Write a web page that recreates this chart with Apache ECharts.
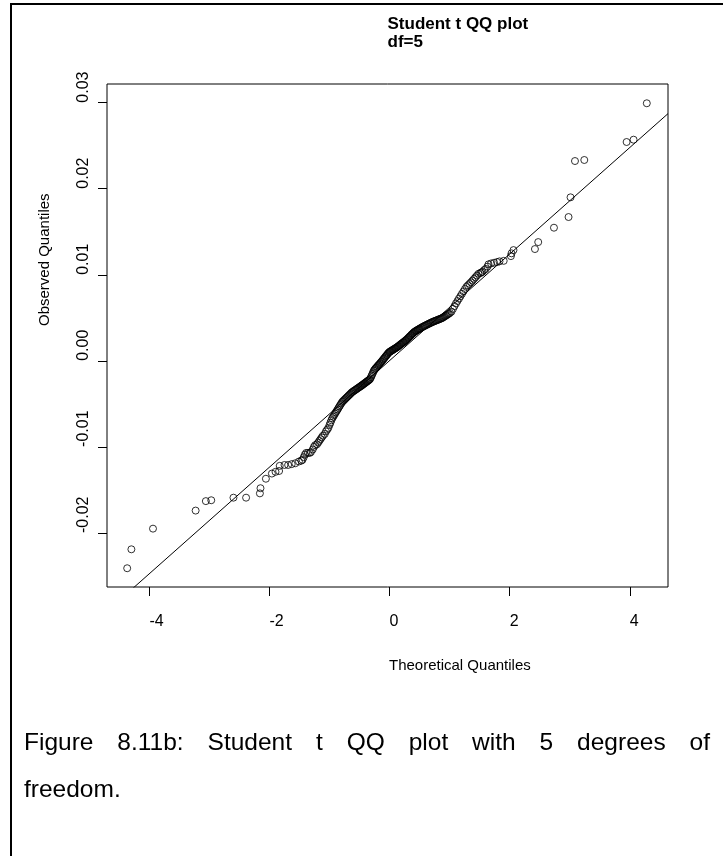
<!DOCTYPE html>
<html>
<head>
<meta charset="utf-8">
<script src="https://cdn.jsdelivr.net/npm/echarts@6/dist/echarts.min.js"></script>
<style>
  html, body { margin: 0; padding: 0; background: #fff; }
  #chart { width: 723px; height: 856px; }
</style>
</head>
<body>
<div id="chart"></div>
<script>
// Ordered sample quantiles (observed returns) against Student t (df = 5) quantiles.

// Lower tail, sparse points
const theoreticalLow = [-4.37, -4.30, -3.94, -3.23, -3.06, -2.97, -2.60, -2.39, -2.16, -2.15, -2.06,
  -1.96, -1.90, -1.84, -1.83, -1.75, -1.69, -1.63, -1.57, -1.51, -1.47, -1.45, -1.43, -1.41, -1.39,
  -1.36, -1.33, -1.31, -1.28, -1.26, -1.24, -1.21, -1.19, -1.17, -1.15, -1.13, -1.11, -1.08, -1.06,
  -1.04, -1.02];
const observedLow = [-0.0241, -0.0219, -0.0195, -0.0174, -0.0163, -0.0162, -0.0159, -0.0159, -0.0154, -0.0148, -0.0137,
  -0.0131, -0.0129, -0.0128, -0.0122, -0.0121, -0.0121, -0.0120, -0.0119, -0.0117, -0.0116, -0.0115, -0.0112, -0.0109, -0.0107,
  -0.0107, -0.0107, -0.0106, -0.0103, -0.0100, -0.0098, -0.0097, -0.0095, -0.0093, -0.0091, -0.0089, -0.0087, -0.0085, -0.0082,
  -0.0080, -0.0078];

// Central body, densely packed points
const theoreticalMid = [
  -1.000, -0.985, -0.970, -0.955, -0.940, -0.925, -0.910, -0.895, -0.880, -0.865, -0.850, -0.835, -0.820, -0.805,
  -0.790, -0.775, -0.760, -0.745, -0.730, -0.715, -0.700, -0.685, -0.670, -0.655, -0.640, -0.625, -0.610, -0.595,
  -0.580, -0.565, -0.550, -0.535, -0.520, -0.505,
  -0.490, -0.478, -0.466, -0.454, -0.442, -0.430, -0.418, -0.406, -0.394, -0.382, -0.370, -0.358, -0.346, -0.334,
  -0.322, -0.310, -0.298, -0.286, -0.274, -0.262, -0.250, -0.238, -0.226, -0.214, -0.202, -0.190, -0.178, -0.166,
  -0.154, -0.142, -0.130, -0.118, -0.106, -0.094, -0.082, -0.070, -0.058, -0.046, -0.034, -0.022, -0.010,
  0.002, 0.014, 0.026, 0.038, 0.050, 0.062, 0.074, 0.086, 0.098, 0.110, 0.122, 0.134, 0.146, 0.158, 0.170, 0.182,
  0.194, 0.206, 0.218, 0.230, 0.242, 0.254, 0.266, 0.278, 0.290, 0.302, 0.314, 0.326, 0.338, 0.350, 0.362, 0.374,
  0.386, 0.398, 0.410, 0.422, 0.434, 0.446, 0.458, 0.470, 0.482, 0.494,
  0.506, 0.522, 0.538, 0.554, 0.570, 0.586, 0.602, 0.618, 0.634, 0.650, 0.666, 0.682, 0.698, 0.714, 0.730, 0.746,
  0.762, 0.778, 0.794, 0.810, 0.826, 0.842, 0.858, 0.874, 0.890, 0.906, 0.922, 0.938, 0.954, 0.970, 0.986,
  1.005, 1.030, 1.055, 1.080, 1.105, 1.130, 1.155, 1.180, 1.205, 1.230, 1.255, 1.280, 1.305, 1.330, 1.355, 1.380,
  1.405, 1.430, 1.455, 1.480,
  1.510, 1.530, 1.547, 1.575, 1.600, 1.630, 1.647, 1.690, 1.740, 1.790, 1.830, 1.900];
const observedMid = [
  -0.00745, -0.00718, -0.00691, -0.00667, -0.00650, -0.00633, -0.00615, -0.00598, -0.00581, -0.00564, -0.00546, -0.00529, -0.00512, -0.00495,
  -0.00478, -0.00468, -0.00457, -0.00447, -0.00436, -0.00426, -0.00416, -0.00405, -0.00395, -0.00385, -0.00374, -0.00364, -0.00357, -0.00349,
  -0.00342, -0.00335, -0.00328, -0.00320, -0.00313, -0.00306,
  -0.00299, -0.00293, -0.00287, -0.00281, -0.00275, -0.00268, -0.00262, -0.00256, -0.00249, -0.00243, -0.00237, -0.00230, -0.00224, -0.00218,
  -0.00208, -0.00190, -0.00171, -0.00152, -0.00133, -0.00114, -0.00102, -0.00092, -0.00082, -0.00073, -0.00063, -0.00053, -0.00044, -0.00034,
  -0.00025, -0.00015, -0.00005, 0.00006, 0.00016, 0.00027, 0.00037, 0.00048, 0.00058, 0.00068, 0.00079, 0.00089, 0.00099,
  0.00105, 0.00110, 0.00116, 0.00121, 0.00126, 0.00131, 0.00137, 0.00142, 0.00147, 0.00152, 0.00158, 0.00164, 0.00170, 0.00177, 0.00184, 0.00190,
  0.00197, 0.00203, 0.00210, 0.00216, 0.00223, 0.00230, 0.00236, 0.00243, 0.00251, 0.00260, 0.00268, 0.00276, 0.00285, 0.00293, 0.00302, 0.00310,
  0.00318, 0.00327, 0.00335, 0.00340, 0.00346, 0.00351, 0.00356, 0.00361, 0.00366, 0.00371,
  0.00376, 0.00383, 0.00390, 0.00396, 0.00402, 0.00407, 0.00413, 0.00419, 0.00424, 0.00430, 0.00435, 0.00441, 0.00446, 0.00452, 0.00456, 0.00461,
  0.00465, 0.00470, 0.00474, 0.00479, 0.00483, 0.00488, 0.00492, 0.00497, 0.00504, 0.00511, 0.00519, 0.00526, 0.00533, 0.00541, 0.00548,
  0.00557, 0.00572, 0.00604, 0.00636, 0.00667, 0.00695, 0.00723, 0.00751, 0.00779, 0.00807, 0.00835, 0.00860, 0.00878, 0.00895, 0.00913, 0.00932,
  0.00952, 0.00971, 0.00991, 0.01011,
  0.01020, 0.01028, 0.01035, 0.01055, 0.01068, 0.01095, 0.01121, 0.01132, 0.01140, 0.01148, 0.01156, 0.01162];

// Upper tail, sparse points
const theoreticalHigh = [2.02, 2.03, 2.063, 2.42, 2.475, 2.737, 2.98, 3.013, 3.087, 3.242, 3.947, 4.063, 4.283];
const observedHigh = [0.01217, 0.01249, 0.01287, 0.01299, 0.01380, 0.01547, 0.01671, 0.01900, 0.02322, 0.02334, 0.02543, 0.02570, 0.02993];

// Reference line through the quartiles
const lineIntercept = 0.00003;
const lineSlope = 0.00619;

// Axis ticks and labels
const xTicks = [-4, -2, 0, 2, 4];
const yTicks = [-0.02, -0.01, 0.00, 0.01, 0.02, 0.03];
const xRange = [-4.706, 4.636];
const yRange = [-0.02628, 0.03217];

const titleLines = ['Student t QQ plot', 'df=5'];
const xTitle = 'Theoretical Quantiles';
const yTitle = 'Observed Quantiles';
const captionLines = ['Figure 8.11b: Student t QQ plot with 5 degrees of', 'freedom.'];

// ---------------------------------------------------------------------
const FONT = '"Liberation Sans", Arial, Helvetica, sans-serif';
const GRID = { left: 107, top: 84, width: 561, height: 503 };
const midX = GRID.left + GRID.width / 2;

function zipPairs(xs, ys) { return xs.map((x, i) => [x, ys[i]]); }
const points = []
  .concat(zipPairs(theoreticalLow, observedLow))
  .concat(zipPairs(theoreticalMid, observedMid))
  .concat(zipPairs(theoreticalHigh, observedHigh));

const lineData = xRange.map(x => [x, lineIntercept + lineSlope * x]);

// Justified caption: spread words to fill the text block width
const capLeft = 24, capRight = 710, capSize = 24.5;
const measureCtx = document.createElement('canvas').getContext('2d');
measureCtx.font = capSize + 'px ' + FONT;
const captionGraphics = [];
captionLines.forEach((line, li) => {
  const words = line.split(' ');
  const yPos = 743 + li * 47;
  const justify = li < captionLines.length - 1 && words.length > 1;
  const widths = words.map(w => measureCtx.measureText(w).width);
  const total = widths.reduce((a, b) => a + b, 0);
  const gap = justify ? (capRight - capLeft - total) / (words.length - 1) : measureCtx.measureText(' ').width;
  let xPos = capLeft;
  words.forEach((w, i) => {
    captionGraphics.push({
      type: 'text', x: xPos, y: yPos, silent: true,
      style: { text: w, fontSize: capSize, fontFamily: FONT, fill: '#000',
               textAlign: 'left', textVerticalAlign: 'middle', align: 'left', verticalAlign: 'middle' }
    });
    xPos += widths[i] + gap;
  });
});

const chart = echarts.init(document.getElementById('chart'), null, { renderer: 'canvas' });
chart.setOption({
  animation: false,
  backgroundColor: '#fff',
  grid: { left: GRID.left, top: GRID.top, width: GRID.width, height: GRID.height, show: true,
          borderColor: '#000', borderWidth: 1, backgroundColor: 'transparent' },
  xAxis: {
    type: 'value', min: xRange[0], max: xRange[1],
    splitLine: { show: false },
    axisLine: { show: false, onZero: false },
    axisTick: { show: true, length: 9, customValues: xTicks, lineStyle: { color: '#000', width: 1 } },
    axisLabel: { customValues: xTicks, margin: 27, color: '#000', fontFamily: FONT, fontSize: 16,
                 align: 'left', formatter: v => String(Math.round(v)) }
  },
  yAxis: {
    type: 'value', min: yRange[0], max: yRange[1],
    splitLine: { show: false },
    axisLine: { show: false, onZero: false },
    axisTick: { show: true, length: 9, customValues: yTicks, lineStyle: { color: '#000', width: 1 } },
    axisLabel: { customValues: yTicks, rotate: 90, margin: 15, color: '#000', fontFamily: FONT, fontSize: 16,
                 align: 'left', verticalAlign: 'bottom', formatter: v => v.toFixed(2) }
  },
  series: [
    {
      type: 'scatter', data: points, symbol: 'circle', symbolSize: 7, silent: true,
      itemStyle: { color: 'rgba(0,0,0,0)', borderColor: '#000', borderWidth: 1 }
    },
    {
      type: 'line', data: lineData, symbol: 'none', silent: true, clip: true,
      lineStyle: { color: '#000', width: 1 }
    }
  ],
  graphic: [
    { type: 'rect', shape: { x: 11, y: 3, width: 712, height: 2 }, style: { fill: '#000' }, silent: true },
    { type: 'rect', shape: { x: 10, y: 3, width: 2, height: 853 }, style: { fill: '#000' }, silent: true },
    { type: 'text', x: midX, y: 24, silent: true,
      style: { text: titleLines[0], fontSize: 17, fontWeight: 'bold', fontFamily: FONT, fill: '#000',
               textVerticalAlign: 'middle', verticalAlign: 'middle' } },
    { type: 'text', x: midX, y: 42, silent: true,
      style: { text: titleLines[1], fontSize: 17, fontWeight: 'bold', fontFamily: FONT, fill: '#000',
               textVerticalAlign: 'middle', verticalAlign: 'middle' } },
    { type: 'text', x: 389, y: 666, silent: true,
      style: { text: xTitle, fontSize: 15, fontFamily: FONT, fill: '#000',
               textVerticalAlign: 'middle', verticalAlign: 'middle' } },
    { type: 'text', x: 45, y: 326, rotation: Math.PI / 2, silent: true,
      style: { text: yTitle, fontSize: 15, fontFamily: FONT, fill: '#000',
               textVerticalAlign: 'middle', verticalAlign: 'middle' } }
  ].concat(captionGraphics)
});
</script>
</body>
</html>
